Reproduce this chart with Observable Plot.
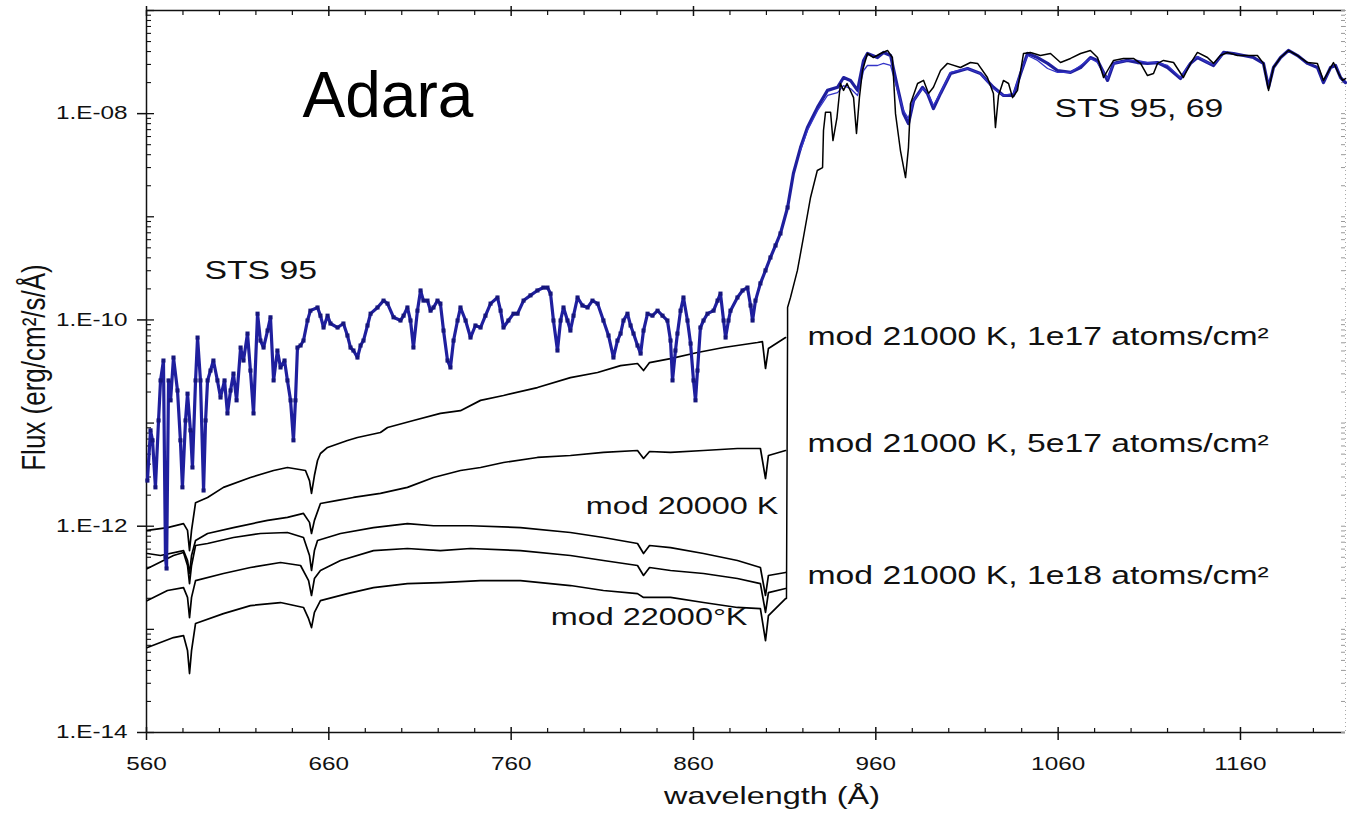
<!DOCTYPE html>
<html><head><meta charset="utf-8">
<script src="https://cdn.jsdelivr.net/npm/d3@7"></script>
<script src="https://cdn.jsdelivr.net/npm/@observablehq/plot@0.6"></script>
<style>
html,body{margin:0;padding:0;background:#fff;}
#chart{width:1347px;height:813px;overflow:hidden;}
</style></head><body><div id="chart"></div>
<script>
// ---- data: [wavelength (Å), flux (erg/cm²/s/Å)] ----
const sts95 = [
[560.5,2.77e-12],[562.2,8.5e-12],[563.3,6.8e-12],[564.9,2.38e-12],[566.6,1.06e-11],[567.7,2.59e-11],[569.3,4.04e-11],[570.4,5.0e-13],[571.0,3.89e-13],[572.1,2.59e-11],[573.2,1.66e-11],[574.8,4.32e-11],[577.0,2.07e-11],[578.6,6.8e-12],[579.7,2.38e-12],[581.4,1.06e-11],[582.5,1.93e-11],[584.1,8.5e-12],[585.2,3.71e-12],[586.9,2.59e-11],[588.0,6.75e-11],[589.6,2.59e-11],[591.3,2.22e-12],[592.4,1.06e-11],[593.5,2.59e-11],[595.1,3.23e-11],[596.7,4.04e-11],[598.9,2.59e-11],[600.6,1.77e-11],[602.8,2.59e-11],[604.4,1.24e-11],[606.1,2.07e-11],[607.7,3.02e-11],[609.4,1.66e-11],[611.6,5.4e-11],[613.2,4.04e-11],[615.4,7.38e-11],[617.0,3.23e-11],[618.7,1.24e-11],[620.9,1.15e-10],[622.5,6.31e-11],[624.2,5.4e-11],[626.4,7.89e-11],[628.0,1.06e-10],[629.7,2.59e-11],[631.8,5.05e-11],[633.5,3.46e-11],[635.7,4.04e-11],[637.3,2.59e-11],[639.0,1.66e-11],[640.6,6.8e-12],[641.7,1.66e-11],[642.8,5.4e-11],[644.5,5.65e-11],[646.1,6.31e-11],[648.3,9.87e-11],[649.9,1.23e-10],[653.8,1.32e-10],[655.4,1.1e-10],[657.1,8.44e-11],[659.3,1.1e-10],[660.9,9.23e-11],[664.8,8.44e-11],[668.0,9.23e-11],[670.2,7.06e-11],[671.9,5.4e-11],[673.5,5.05e-11],[675.7,4.32e-11],[677.4,5.65e-11],[679.0,6.31e-11],[681.2,8.83e-11],[682.9,1.15e-10],[686.7,1.32e-10],[690.0,1.54e-10],[692.2,1.44e-10],[695.5,1.06e-10],[699.3,9.87e-11],[701.0,1.1e-10],[703.1,1.32e-10],[704.8,9.87e-11],[706.4,5.4e-11],[708.6,1.23e-10],[710.3,1.93e-10],[711.9,1.54e-10],[714.1,1.54e-10],[715.8,1.23e-10],[717.4,1.32e-10],[719.6,1.54e-10],[721.2,1.44e-10],[722.9,7.89e-11],[725.1,4.04e-11],[726.7,3.46e-11],[728.4,6.31e-11],[730.6,9.87e-11],[732.2,1.32e-10],[735.0,9.87e-11],[737.7,6.75e-11],[740.4,8.83e-11],[743.2,8.44e-11],[745.9,1.1e-10],[748.7,1.44e-10],[752.5,1.65e-10],[754.2,1.23e-10],[755.8,8.44e-11],[758.5,9.87e-11],[761.3,1.15e-10],[763.5,1.15e-10],[766.8,1.54e-10],[770.6,1.73e-10],[774.4,1.93e-10],[777.7,2.06e-10],[779.9,2.06e-10],[781.6,1.8e-10],[783.2,9.87e-11],[785.4,5.05e-11],[787.1,9.87e-11],[788.7,1.32e-10],[790.9,9.87e-11],[792.5,7.89e-11],[794.2,1.1e-10],[796.4,1.65e-10],[799.1,1.38e-10],[801.9,1.32e-10],[804.6,1.54e-10],[807.4,1.44e-10],[810.6,9.87e-11],[813.4,7.06e-11],[816.1,4.32e-11],[818.3,6.31e-11],[820.0,7.38e-11],[821.6,9.87e-11],[823.8,1.15e-10],[825.5,8.83e-11],[827.1,7.38e-11],[829.3,5.65e-11],[831.0,4.72e-11],[832.6,7.89e-11],[834.8,1.15e-10],[837.5,1.1e-10],[840.3,1.23e-10],[843.0,1.1e-10],[845.7,9.87e-11],[847.4,6.31e-11],[848.5,2.59e-11],[850.1,5.05e-11],[851.2,7.38e-11],[852.9,1.23e-10],[854.5,1.65e-10],[856.7,9.87e-11],[858.4,5.9e-11],[860.0,2.59e-11],[861.1,1.66e-11],[862.2,3.23e-11],[863.8,8.44e-11],[865.5,9.87e-11],[867.7,1.15e-10],[871.0,1.23e-10],[873.2,1.54e-10],[874.8,1.8e-10],[876.5,9.87e-11],[877.6,6.75e-11],[879.2,9.87e-11],[880.3,1.23e-10],[884.1,1.65e-10],[886.9,1.93e-10],[889.6,2.06e-10],[891.3,1.38e-10],[892.4,9.87e-11],[894.0,1.54e-10],[896.7,2.26e-10],[899.5,3.02e-10],[902.2,4.03e-10],[905.0,5.27e-10],[907.7,6.89e-10],[911.6,1.23e-9],[914.8,2.63e-9],[918.7,4.69e-9],[922.5,7.33e-9],[928.0,1.15e-8],[933.5,1.68e-8],[939.0,1.8e-8],[942.3,2.24e-8],[946.1,2.1e-8],[950.0,1.68e-8],[953.3,3.28e-8],[955.4,3.83e-8],[960.9,3.5e-8],[964.2,3.92e-8],[968.1,3.66e-8],[971.9,1.8e-8],[975.2,1.0e-8],[977.9,8.0e-9],[980.7,1.34e-8],[985.6,1.8e-8],[988.3,1.57e-8],[991.6,1.12e-8],[995.5,1.57e-8],[1001.0,2.45e-8],[1010.3,2.74e-8],[1017.4,2.45e-8],[1024.5,1.8e-8],[1030.0,1.5e-8],[1035.5,1.5e-8],[1039.4,2.45e-8],[1043.2,3.83e-8],[1048.7,3.5e-8],[1054.2,3.07e-8],[1059.6,2.62e-8],[1066.8,2.51e-8],[1072.3,2.8e-8],[1077.7,3.5e-8],[1081.6,3.28e-8],[1087.1,2.1e-8],[1090.4,3.07e-8],[1098.0,3.28e-8],[1103.5,3.13e-8],[1109.0,3.07e-8],[1114.5,3.13e-8],[1120.0,2.8e-8],[1127.1,2.19e-8],[1132.6,3.07e-8],[1136.4,3.5e-8],[1141.9,3.13e-8],[1145.2,2.93e-8],[1150.7,3.92e-8],[1156.2,3.83e-8],[1161.7,3.66e-8],[1167.2,3.5e-8],[1172.6,3.07e-8],[1175.4,1.8e-8],[1178.1,2.8e-8],[1182.0,3.5e-8],[1186.3,4.1e-8],[1191.3,3.66e-8],[1196.8,3.07e-8],[1202.2,2.8e-8],[1205.5,2.0e-8],[1209.4,2.8e-8],[1212.1,2.93e-8],[1214.9,2.24e-8],[1217.6,2.0e-8]
];
const sts69 = [
[918.7,4.39e-9],[922.5,6.86e-9],[928.0,1.07e-8],[933.5,1.5e-8],[939.0,1.6e-8],[942.3,1.87e-8],[946.1,1.75e-8],[950.0,1.5e-8],[953.3,2.62e-8],[955.4,2.93e-8],[960.9,2.93e-8],[964.2,3.07e-8],[968.1,2.93e-8],[971.9,1.68e-8],[975.2,1.07e-8],[977.9,8.96e-9],[980.7,1.34e-8],[985.6,1.75e-8],[988.3,1.6e-8],[991.6,1.2e-8],[995.5,1.6e-8],[1001.0,2.51e-8],[1010.3,2.74e-8],[1017.4,2.45e-8],[1024.5,1.75e-8],[1030.0,1.5e-8],[1035.5,1.57e-8],[1039.4,2.51e-8],[1043.2,3.66e-8],[1048.7,3.28e-8],[1054.2,2.74e-8],[1059.6,2.51e-8],[1066.8,2.51e-8],[1072.3,2.93e-8],[1077.7,3.43e-8],[1081.6,3.13e-8],[1087.1,2.19e-8],[1090.4,3.07e-8],[1098.0,3.28e-8],[1103.5,3.28e-8],[1109.0,3.13e-8],[1114.5,3.13e-8],[1120.0,2.93e-8],[1127.1,2.24e-8],[1132.6,3.13e-8],[1136.4,3.58e-8],[1141.9,3.13e-8],[1145.2,3.0e-8],[1150.7,3.83e-8]
];
const mod21000_1e17 = [
[560.5,9.1e-13],[571.5,9.7e-13],[580.3,1.06e-12],[582.5,9.1e-13],[583.6,5.8e-13],[584.7,9.1e-13],[586.9,1.69e-12],[593.5,1.9e-12],[602.2,2.38e-12],[617.0,2.97e-12],[629.7,3.47e-12],[637.3,3.71e-12],[647.2,3.47e-12],[649.4,2.77e-12],[650.5,2.08e-12],[652.1,3.1e-12],[653.8,4.34e-12],[655.4,5.07e-12],[659.3,5.8e-12],[670.2,6.78e-12],[675.7,7.25e-12],[688.3,8.1e-12],[692.2,9.06e-12],[706.4,1.06e-11],[721.2,1.24e-11],[732.2,1.32e-11],[743.2,1.66e-11],[755.8,1.85e-11],[774.4,2.21e-11],[792.5,2.76e-11],[807.4,3.09e-11],[820.0,3.61e-11],[829.3,3.78e-11],[832.6,3.23e-11],[835.9,3.86e-11],[847.4,4.22e-11],[862.2,4.83e-11],[876.5,5.4e-11],[895.1,6.04e-11],[897.8,6.17e-11],[899.5,3.38e-11],[901.1,5.28e-11],[910.5,6.75e-11]
];
const mod21000_5e17 = [
[560.5,5.44e-13],[567.7,5.2e-13],[580.3,5.8e-13],[582.5,4.65e-13],[583.6,3.48e-13],[584.7,5.2e-13],[586.9,7.27e-13],[593.5,8.5e-13],[607.7,9.7e-13],[626.4,1.14e-12],[637.3,1.22e-12],[646.1,1.33e-12],[649.4,1.09e-12],[650.5,8.5e-13],[652.1,1.14e-12],[655.4,1.66e-12],[664.8,1.78e-12],[673.5,1.9e-12],[688.3,2.08e-12],[703.1,2.38e-12],[717.4,2.97e-12],[732.2,3.47e-12],[743.2,3.71e-12],[755.8,4.15e-12],[774.4,4.64e-12],[792.5,4.85e-12],[810.6,5.19e-12],[829.3,5.42e-12],[832.6,4.54e-12],[835.9,5.3e-12],[847.4,5.19e-12],[865.5,5.42e-12],[884.1,5.67e-12],[896.7,5.67e-12],[899.5,2.9e-12],[901.1,4.85e-12],[910.5,5.42e-12]
];
const mod20000 = [
[560.5,3.89e-13],[574.8,5.2e-13],[580.3,5.56e-13],[582.5,4.16e-13],[583.6,2.78e-13],[584.7,4.16e-13],[586.9,6.5e-13],[593.5,6.8e-13],[607.7,7.77e-13],[622.5,8.5e-13],[637.3,8.69e-13],[646.1,7.77e-13],[649.4,5.2e-13],[650.5,3.72e-13],[652.1,5.8e-13],[653.8,7.27e-13],[666.4,8.5e-13],[684.5,9.7e-13],[703.1,1.06e-12],[717.4,1.01e-12],[737.7,1.01e-12],[765.1,9.7e-13],[792.5,8.69e-13],[810.6,7.77e-13],[829.3,6.8e-13],[832.6,5.44e-13],[835.9,6.5e-13],[847.4,6.21e-13],[865.5,5.44e-13],[884.1,4.65e-13],[896.7,3.98e-13],[899.5,2.13e-13],[901.1,3.33e-13],[910.5,3.56e-13]
];
const mod21000_1e18 = [
[560.5,1.9e-13],[571.5,2.38e-13],[580.3,2.54e-13],[582.5,2.04e-13],[583.6,1.3e-13],[584.7,2.04e-13],[586.9,2.97e-13],[602.2,3.48e-13],[617.0,3.98e-13],[633.5,4.45e-13],[644.5,4.16e-13],[648.9,2.97e-13],[650.5,2.13e-13],[652.1,3.11e-13],[655.4,3.72e-13],[666.4,4.65e-13],[684.5,5.8e-13],[703.1,6.08e-13],[721.2,5.8e-13],[737.7,6.08e-13],[765.1,5.8e-13],[792.5,5.2e-13],[810.6,4.65e-13],[829.3,4.16e-13],[832.6,3.33e-13],[835.9,3.98e-13],[847.4,3.72e-13],[865.5,3.48e-13],[884.1,3.11e-13],[896.7,2.78e-13],[899.5,1.46e-13],[901.1,2.27e-13],[910.5,2.49e-13]
];
const mod22000 = [
[560.5,6.66e-14],[574.8,8.33e-14],[580.3,8.71e-14],[582.5,6.23e-14],[583.6,3.73e-14],[584.7,6.23e-14],[586.9,1.14e-13],[602.2,1.42e-13],[617.0,1.7e-13],[633.5,1.82e-13],[646.1,1.63e-13],[648.9,1.27e-13],[650.5,1.04e-13],[652.1,1.46e-13],[655.4,1.9e-13],[670.2,2.22e-13],[684.5,2.54e-13],[703.1,2.78e-13],[721.2,2.84e-13],[743.2,2.97e-13],[765.1,2.97e-13],[792.5,2.66e-13],[810.6,2.38e-13],[829.3,2.22e-13],[832.6,2.04e-13],[847.4,2.04e-13],[865.5,1.82e-13],[884.1,1.63e-13],[896.7,1.59e-13],[899.5,7.79e-14],[901.1,1.36e-13],[910.5,1.99e-13]
];
// model longward of the Lyman limit (shared by the models)
const modLongward = [
[911.0,1.99e-13],[911.6,7.9e-11],[911.6,1.32e-10],[913.2,1.65e-10],[917.0,3.02e-10],[920.3,6.3e-10],[924.2,1.54e-9],[927.9,2.81e-9],[930.8,3.0e-9],[931.3,6.86e-9],[932.4,1.03e-8],[935.2,1.03e-8],[936.5,5.48e-9],[938.7,9.17e-9],[940.6,1.96e-8],[942.3,1.68e-8],[944.2,1.96e-8],[947.8,1.43e-8],[949.4,6.41e-9],[951.0,1.43e-8],[952.7,2.62e-8],[955.4,3.83e-8],[958.7,3.5e-8],[962.6,3.83e-8],[966.4,4.1e-8],[969.1,3.5e-8],[970.8,1.0e-8],[973.5,4.39e-9],[976.3,2.4e-9],[977.9,4.69e-9],[979.0,1.25e-8],[982.9,1.96e-8],[986.2,2.1e-8],[988.9,1.57e-8],[991.6,1.8e-8],[995.5,2.62e-8],[999.3,3.07e-8],[1006.4,2.8e-8],[1011.9,3.13e-8],[1015.8,3.07e-8],[1021.2,2.24e-8],[1024.5,1.57e-8],[1025.6,7.33e-9],[1027.3,1.5e-8],[1030.0,2.1e-8],[1032.8,1.96e-8],[1035.0,1.43e-8],[1037.7,1.68e-8],[1041.0,3.83e-8],[1044.8,3.92e-8],[1050.3,3.66e-8],[1055.8,3.83e-8],[1061.3,3.13e-8],[1066.8,3.43e-8],[1072.3,3.83e-8],[1077.7,4.1e-8],[1081.6,3.5e-8],[1084.9,2.24e-8],[1087.1,2.62e-8],[1090.4,3.28e-8],[1095.8,3.43e-8],[1101.3,3.43e-8],[1105.2,3.07e-8],[1109.0,2.34e-8],[1112.3,2.45e-8],[1114.5,3.07e-8],[1117.8,3.28e-8],[1123.3,3.13e-8],[1128.7,2.24e-8],[1132.6,3.07e-8],[1136.4,3.92e-8],[1141.9,3.5e-8],[1145.2,3.07e-8],[1149.0,3.66e-8],[1152.9,3.92e-8],[1158.4,3.66e-8],[1163.8,3.66e-8],[1169.3,3.66e-8],[1172.6,3.07e-8],[1175.4,1.68e-8],[1178.1,2.8e-8],[1182.0,3.5e-8],[1186.3,4.1e-8],[1191.3,3.66e-8],[1196.8,3.13e-8],[1202.2,3.07e-8],[1205.5,2.1e-8],[1209.4,2.8e-8],[1211.0,3.13e-8],[1213.8,2.45e-8],[1216.0,2.1e-8],[1217.6,2.19e-8]
];
// ---- axes ----
const xDomain = [560, 1217.6];
const yDomain = [1e-14, 1e-7];
const xMajorTicks = [560, 660, 760, 860, 960, 1060, 1160];
const xMinorTicks = [580,600,620,640,680,700,720,740,780,800,820,840,880,900,920,940,980,1000,1020,1040,1080,1100,1120,1140,1180,1200];
const yLabeledTicks = [1e-14, 1e-12, 1e-10, 1e-8];
const yDecadeTicks = [1e-14, 1e-13, 1e-12, 1e-11, 1e-10, 1e-9, 1e-8, 1e-7];
const yMantissas = [2, 3, 4, 5, 6, 7, 8, 9];
const yMinorTicks = yDecadeTicks.slice(0, -1).flatMap(d => yMantissas.map(m => m * d));
// ---- text ----
const titleText = ["Adara"];
const xLabel = ["wavelength (Å)"];
const yLabel = ["Flux (erg/cm²/s/Å)"];
const annotations = [
  {text: "STS 95", x: 591.8, y: 2.52e-10, anchor: "start", size: 25},
  {text: "STS 95, 69", x: 1058.0, y: 9.2e-9, anchor: "start", size: 25},
  {text: "mod 21000 K, 1e17 atoms/cm²", x: 922.5, y: 5.77e-11, anchor: "start", size: 25},
  {text: "mod 21000 K, 5e17 atoms/cm²", x: 922.5, y: 5.19e-12, anchor: "start", size: 25},
  {text: "mod 21000 K, 1e18 atoms/cm²", x: 922.5, y: 2.78e-13, anchor: "start", size: 25},
  {text: "mod 20000 K", x: 906.6, y: 1.30e-12, anchor: "end", size: 24},
  {text: "mod 22000°K", x: 889.6, y: 1.09e-13, anchor: "end", size: 24}
];

const W = 1347, H = 813, mL = 146, mR = 2, mT = 10, mB = 81;
const pw = W - mL - mR, ph = H - mT - mB;
const FONT = "'Liberation Sans', Arial, Helvetica, sans-serif";
const px = d => d[0], py = d => d[1];
const BLUE = "#1f1f9e", NAVY = "#16167c";
const expFmt = d => "1.E-" + String(Math.round(-Math.log10(d))).padStart(2, "0");

const models = [mod21000_1e17, mod21000_5e17, mod20000, mod21000_1e18, mod22000];

const chart = Plot.plot({
  width: W, height: H,
  marginLeft: mL, marginRight: mR, marginTop: mT, marginBottom: mB,
  style: {fontFamily: FONT, background: "#fff", color: "#111", overflow: "visible"},
  x: {domain: xDomain},
  y: {type: "log", domain: yDomain},
  marks: [
    // frame lines
    Plot.ruleX([xDomain[0]], {stroke: "#111", strokeWidth: 1.5}),
    Plot.ruleY([yDomain[0]], {stroke: "#111", strokeWidth: 1.5}),
    Plot.ruleY([yDomain[1]], {stroke: "#111", strokeWidth: 1.5}),
    Plot.ruleX([xDomain[1]], {stroke: "#aaa", strokeWidth: 1, strokeDasharray: "1,3"}),
    // bottom axis
    Plot.axisX(xMajorTicks, {anchor: "bottom", tickSize: 8, tickPadding: 17, fontSize: 18, tickFormat: d => String(d), label: null, strokeWidth: 1.5}),
    Plot.tickX(xMajorTicks, {x: d => d, insetTop: ph - 5, strokeWidth: 1.5}),
    Plot.tickX(xMinorTicks, {x: d => d, insetTop: ph - 4, strokeWidth: 1.2}),
    // top axis
    Plot.tickX(xMajorTicks, {x: d => d, insetTop: -4, insetBottom: ph - 6, strokeWidth: 1.5}),
    Plot.tickX(xMinorTicks, {x: d => d, insetBottom: ph - 5, strokeWidth: 1.2}),
    // left axis
    Plot.axisY(yLabeledTicks, {anchor: "left", tickSize: 9, tickPadding: 10, fontSize: 18, tickFormat: expFmt, label: null, strokeWidth: 1.5}),
    Plot.tickY(yDecadeTicks, {y: d => d, insetRight: pw - 8, strokeWidth: 1.3}),
    Plot.tickY(yMinorTicks, {y: d => d, insetRight: pw - 5, strokeWidth: 1.1}),
    // right axis (faint)
    Plot.tickY(yMinorTicks.concat(yDecadeTicks), {y: d => d, insetLeft: pw - 4, stroke: "#999", strokeWidth: 1}),
    // axis titles
    Plot.text(xLabel, {text: d => d, frameAnchor: "bottom", dx: 26, dy: 71, textAnchor: "middle", lineAnchor: "bottom", fontSize: 24}),
    Plot.text(yLabel, {text: d => d, frameAnchor: "left", dx: -112, dy: -4, rotate: -90, textAnchor: "middle", lineAnchor: "middle", fontSize: 26}),
    // models shortward of the Lyman limit
    ...models.map(m => Plot.line(m, {x: px, y: py, stroke: "#000", strokeWidth: 1.7})),
    // observed spectra
    Plot.line(sts95, {x: px, y: py, stroke: BLUE, strokeWidth: 3.2, strokeLinejoin: "round"}),
    Plot.dot(sts95.filter(d => d[0] < 912), {x: px, y: py, symbol: "square", r: 2.3, fill: NAVY, stroke: "none"}),
    Plot.line(sts69, {x: px, y: py, stroke: "#3434c8", strokeWidth: 1.3}),
    // model longward of the Lyman limit
    Plot.line(modLongward, {x: px, y: py, stroke: "#000", strokeWidth: 1.5}),
    // annotations
    Plot.text(titleText, {text: d => d, x: () => 645.6, y: () => 9.2e-9, textAnchor: "start", lineAnchor: "bottom", fontSize: 64, fill: "#000"}),
    Plot.text(annotations.filter(a => a.anchor === "start"), {x: "x", y: "y", text: "text", textAnchor: "start", lineAnchor: "bottom", fontSize: "size", fill: "#111"}),
    Plot.text(annotations.filter(a => a.anchor === "end"), {x: "x", y: "y", text: "text", textAnchor: "end", lineAnchor: "bottom", fontSize: "size", fill: "#111"})
  ]
});
document.getElementById("chart").appendChild(chart);

// The reference's lettering is horizontally stretched: widen glyphs around their anchor.
chart.querySelectorAll("text").forEach(t => {
  if (t.textContent === "Adara") return;
  const tr = t.getAttribute("transform");
  if (!tr) return;
  if (tr.includes("rotate")) t.setAttribute("transform", tr + " scale(1,1.25)");
  else t.setAttribute("transform", tr + " scale(1.35,1)");
});
</script>
</body></html>
